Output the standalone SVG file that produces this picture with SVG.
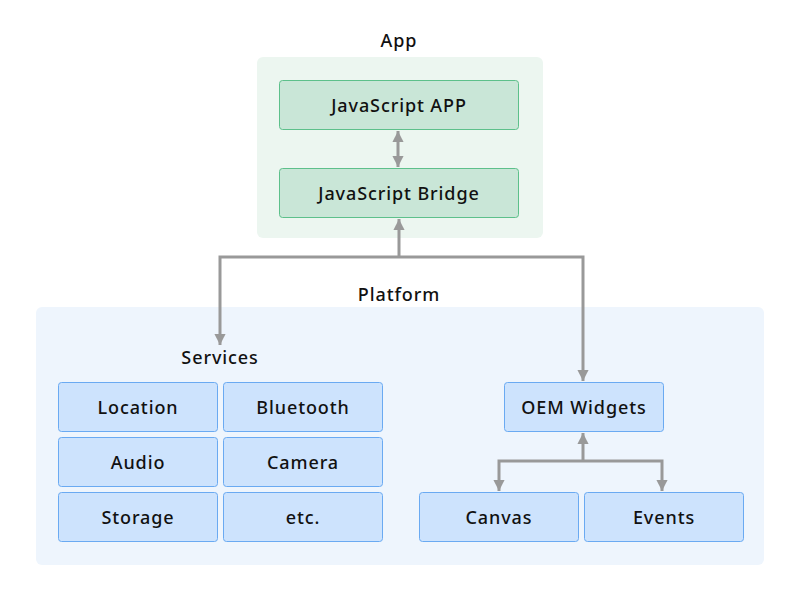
<svg xmlns="http://www.w3.org/2000/svg" width="800" height="600" viewBox="0 0 800 600">
<defs>
<style>
text{font-family:"Noto Sans","Liberation Sans",Arial,sans-serif;font-size:18px;font-weight:500;letter-spacing:0.9px;fill:#111;text-anchor:middle;dominant-baseline:central}
.cont-app{fill:#ecf6f0}
.cont-plat{fill:#eef5fd}
.g{fill:#c9e6d7;stroke:#5dc08b;stroke-width:1}
.b{fill:#cde3fd;stroke:#6aaaf2;stroke-width:1}
.c{fill:none;stroke:#999;stroke-width:3}
</style>
<marker id="ah" viewBox="0 0 10 10" refX="10" refY="5" markerWidth="4.4" markerHeight="3.7" orient="auto-start-reverse" markerUnits="strokeWidth">
<path d="M0,0 L10,5 L0,10 z" fill="#999"/>
</marker>
</defs>
<rect width="800" height="600" fill="#fff"/>
<g id="app">
<rect class="cont-app" x="257" y="57" width="286" height="181" rx="6"/>
<text x="399" y="40">App</text>
</g>
<g id="platform">
<rect class="cont-plat" x="36" y="307" width="728" height="258" rx="6"/>
<text x="399" y="294">Platform</text>
<text x="220" y="357">Services</text>
</g>
<g id="js-app"><rect class="g" x="279.5" y="80.5" width="239" height="49" rx="3"/><text x="399" y="105">JavaScript APP</text></g>
<g id="js-bridge"><rect class="g" x="279.5" y="168.5" width="239" height="49" rx="3"/><text x="399" y="193">JavaScript Bridge</text></g>
<g id="location"><rect class="b" x="58.5" y="382.5" width="159" height="49" rx="3"/><text x="138" y="407">Location</text></g>
<g id="bluetooth"><rect class="b" x="223.5" y="382.5" width="159" height="49" rx="3"/><text x="303" y="407">Bluetooth</text></g>
<g id="audio"><rect class="b" x="58.5" y="437.5" width="159" height="49" rx="3"/><text x="138" y="462">Audio</text></g>
<g id="camera"><rect class="b" x="223.5" y="437.5" width="159" height="49" rx="3"/><text x="303" y="462">Camera</text></g>
<g id="storage"><rect class="b" x="58.5" y="492.5" width="159" height="49" rx="3"/><text x="138" y="517">Storage</text></g>
<g id="etc"><rect class="b" x="223.5" y="492.5" width="159" height="49" rx="3"/><text x="303" y="517">etc.</text></g>
<g id="oem"><rect class="b" x="504.5" y="382.5" width="159" height="49" rx="3"/><text x="584" y="407">OEM Widgets</text></g>
<g id="canvas"><rect class="b" x="419.5" y="492.5" width="159" height="49" rx="3"/><text x="499" y="517">Canvas</text></g>
<g id="events"><rect class="b" x="584.5" y="492.5" width="159" height="49" rx="3"/><text x="664" y="517">Events</text></g>
<g id="connectors">
<line class="c" x1="398" y1="131" x2="398" y2="167" marker-start="url(#ah)" marker-end="url(#ah)"/>
<line class="c" x1="399" y1="257" x2="399" y2="219" marker-end="url(#ah)"/>
<polyline class="c" points="220,345 220,257 583,257 583,381" marker-start="url(#ah)" marker-end="url(#ah)"/>
<line class="c" x1="583" y1="461" x2="583" y2="433" marker-end="url(#ah)"/>
<polyline class="c" points="499,491 499,461 662,461 662,491" marker-start="url(#ah)" marker-end="url(#ah)"/>
</g>
</svg>
